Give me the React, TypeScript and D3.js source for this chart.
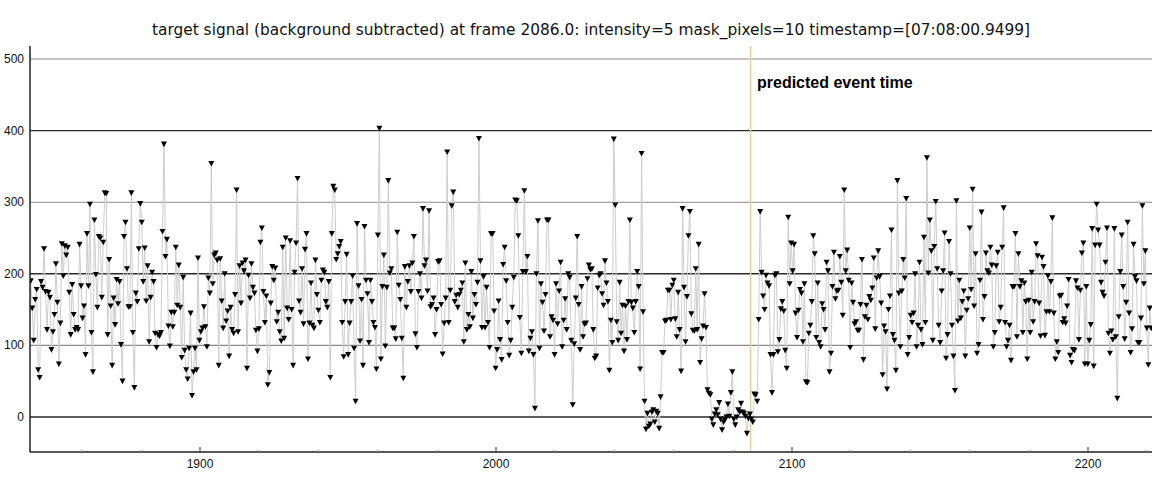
import React from "react";
import * as d3 from "d3";

const titleText =
  "target signal (background subtracted) at frame 2086.0: intensity=5 mask_pixels=10 timestamp=[07:08:00.9499]";
const eventLabel = "predicted event time";
const eventFrame = 2086;

const yTicks = [0, 100, 200, 300, 400, 500];
const xTicks = [1900, 2000, 2100, 2200];
const xMinorTicks = [1860, 1880, 1920, 1940, 1960, 1980, 2020, 2040, 2060, 2080, 2120, 2140, 2160, 2180, 2220];

// frame span covered by each data segment
const segmentFrames: [number, number][] = [
  [1842.57, 1905.07],
  [1905.07, 1965.88],
  [1965.88, 2026.69],
  [2026.69, 2087.5],
  [2087.5, 2148.31],
  [2148.31, 2221.62],
];

const seg1 = [190,152,107,164,178,66,55,189,181,235,175,122,174,167,94,119,143,214,160,74,131,242,197,239,226,237,174,115,185,143,122,125,122,241,183,138,155,87,256,183,297,118,63,275,199,153,252,250,167,244,313,312,115,220,155,72,166,129,192,158,189,101,50,252,272,207,154,154,313,118,41,173,161,235,298,272,189,236,162,211,105,167,202,189,117,97,115,113,118,259,381,224,248,127,99,146,126,146,237,156,212,153,83,195,93,66,53,96,145,30,63,96,66,222,107,119,124,154,126,98,194,173,354,186,226];
const seg2 = [229,219,72,221,162,124,200,134,148,85,153,122,117,171,317,119,211,159,215,204,219,68,198,166,214,181,173,121,92,123,244,264,175,132,169,45,62,159,210,191,208,133,146,119,106,237,110,250,152,136,246,150,72,202,243,333,162,146,207,130,234,256,81,131,187,128,124,219,171,149,132,191,205,202,161,153,189,55,256,322,317,220,228,238,245,132,84,161,227,87,131,161,197,96,22,270,183,106,164,72,266,191,172,104,191,161,132,125,67,254,403,81,182,226,99,181,330,201,207,124,124];
const seg3 = [109,258,184,164,110,54,210,153,189,211,175,215,252,116,97,175,200,166,291,211,219,176,288,154,157,166,115,150,217,218,157,88,131,166,370,132,177,295,314,161,170,153,171,177,187,105,215,122,143,126,203,138,171,157,188,389,218,125,196,125,181,132,97,256,256,148,68,94,162,108,80,213,237,190,132,86,107,153,195,303,302,253,139,89,203,316,203,224,92,110,119,87,12,200,274,96,186,160,120,171,275,275,112,140,135,87,186,130,176,216,98,135,165,122,200,195,107,17,102];
const seg4 = [166,252,157,94,182,112,130,131,193,212,206,207,122,82,85,180,198,200,172,156,218,187,161,65,135,104,388,296,133,107,188,117,156,92,155,108,161,275,160,152,118,161,203,182,67,368,147,22,-17,5,-13,-10,7,10,-7,8,5,-16,28,90,90,134,135,177,177,136,184,191,137,112,174,122,64,291,181,105,168,253,287,144,121,120,207,122,241,76,109,127,172,125,38,33,31,-3,-11,4,10,3,20,-3,-18,-7,-4,0,18,1,34,63,-3,-11,0,10,7,19,7,5,1,-23,-2,4,-3,-7,32];
const seg5 = [31,22,136,287,202,169,150,198,187,183,87,34,87,198,200,91,108,151,161,148,93,68,279,186,243,204,241,145,111,149,178,173,105,186,49,48,117,128,161,253,228,111,187,104,98,158,150,122,216,204,63,89,182,230,165,176,177,224,188,142,317,204,233,191,97,187,160,130,133,121,121,157,220,80,140,156,136,168,163,180,222,123,194,232,196,159,59,127,119,39,150,169,261,115,107,65,330,173,98,176,220,194,305,87,111,142,132,145,200,98,128,216,122,101,251,132,362,201,275,232,107,238];
const seg6 = [301,207,128,104,176,204,257,82,115,245,200,128,85,37,302,134,191,138,161,176,85,149,165,264,178,318,155,228,89,101,191,286,136,168,229,204,201,237,212,98,118,211,230,133,153,237,292,132,98,107,128,79,182,182,256,112,228,182,190,118,187,161,81,163,118,202,133,161,242,225,159,113,223,210,114,147,197,147,189,278,145,81,105,90,169,170,132,137,131,155,192,86,76,94,93,190,180,108,177,229,243,74,182,74,107,129,263,71,240,297,261,240,188,174,169,216,264,117,89,120,108,263,112,26,140,203,254,182,109,160,272,145,90,123,241,196,190,104,104,138,295,186,232,124,73,152,124];

const segments = [seg1, seg2, seg3, seg4, seg5, seg6];

type Pt = { frame: number; value: number };
const data: Pt[] = segments.flatMap((vals, s) => {
  const [f0, f1] = segmentFrames[s];
  const step = (f1 - f0) / vals.length;
  return vals.map((v, i) => ({ frame: f0 + (i + 0.5) * step, value: v }));
});

const W = 1152;
const H = 487;
const plotLeft = 30;
const plotRight = 1152;
const plotTop = 46;
const plotBottom = 452;

export default function App() {
  const x = d3.scaleLinear().domain([1900, 2200]).range([200, 1088]);
  const y = d3.scaleLinear().domain([0, 500]).range([417, 59]);
  const line = d3
    .line<Pt>()
    .x((d) => x(d.frame))
    .y((d) => y(d.value));
  const tri = "M-3,-2.6 L3,-2.6 L0,3 Z";
  const font = "'Liberation Sans', Arial, sans-serif";
  const titleFont = "'DejaVu Sans', Verdana, sans-serif";

  return (
    <svg
      width={W}
      height={H}
      style={{ position: "absolute", left: 0, top: 0, background: "#fff" }}
      fontFamily={font}
    >
      <rect x={0} y={0} width={W} height={H} fill="#fff" />
      <defs>
        <clipPath id="plotclip">
          <rect x={plotLeft} y={plotTop} width={plotRight - plotLeft} height={plotBottom - plotTop} />
        </clipPath>
      </defs>
      <text
        x={591}
        y={35}
        fontSize={15}
        fontFamily={titleFont}
        textAnchor="middle"
        fill="#111"
        textLength={878}
        lengthAdjust="spacingAndGlyphs"
      >
        {titleText}
      </text>
      {yTicks.map((t) => (
        <g key={t}>
          <line
            x1={plotLeft}
            x2={plotRight}
            y1={y(t)}
            y2={y(t)}
            stroke={t % 200 === 0 ? "#2a2a2a" : "#8a8a8a"}
            strokeWidth={t % 200 === 0 ? 1.4 : 1.1}
          />
          <text x={24} y={y(t) + 4} fontSize={12} textAnchor="end" fill="#111">
            {t}
          </text>
        </g>
      ))}
      <line
        x1={x(eventFrame)}
        x2={x(eventFrame)}
        y1={plotTop}
        y2={plotBottom}
        stroke="#d6d6a4"
        strokeWidth={1.5}
      />
      <text x={757} y={88} fontSize={16} fontWeight="bold" fill="#000">
        {eventLabel}
      </text>
      <g clipPath="url(#plotclip)">
        <path d={line(data) || ""} fill="none" stroke="#cdcdcd" strokeWidth={1} />
        {data.map((d, i) => (
          <path key={i} d={tri} transform={`translate(${x(d.frame)},${y(d.value)})`} fill="#000" />
        ))}
      </g>
      <line x1={plotLeft} x2={plotLeft} y1={plotTop} y2={plotBottom} stroke="#222" strokeWidth={1.5} />
      <line x1={plotLeft} x2={plotRight} y1={plotBottom} y2={plotBottom} stroke="#222" strokeWidth={1.5} />
      {xTicks.map((t) => (
        <g key={t}>
          <line x1={x(t)} x2={x(t)} y1={plotBottom - 5} y2={plotBottom} stroke="#333" strokeWidth={1} />
          <text x={x(t)} y={468} fontSize={12} textAnchor="middle" fill="#111">
            {t}
          </text>
        </g>
      ))}
      {xMinorTicks.map((t) => (
        <line key={t} x1={x(t)} x2={x(t)} y1={plotBottom - 2} y2={plotBottom} stroke="#999" strokeWidth={1} />
      ))}
    </svg>
  );
}
